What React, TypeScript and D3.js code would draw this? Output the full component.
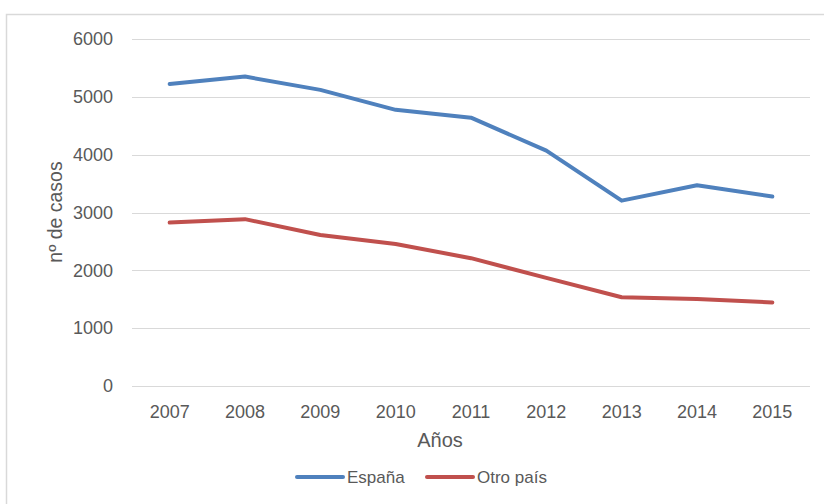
import * as d3 from "d3";
import { useEffect, useRef } from "react";

const years = ["2007", "2008", "2009", "2010", "2011", "2012", "2013", "2014", "2015"];
const espana = [5220, 5350, 5120, 4775, 4640, 4070, 3205, 3470, 3275];
const otroPais = [2825, 2885, 2610, 2455, 2210, 1870, 1535, 1505, 1445];
const yTicks = [0, 1000, 2000, 3000, 4000, 5000, 6000];

const series = [
  { name: "España", values: espana, color: "#4f81bd" },
  { name: "Otro país", values: otroPais, color: "#c0504d" },
];

const FONT = "'Liberation Sans', Arial, sans-serif";

const App = () => {
  const ref = useRef<SVGSVGElement>(null);

  useEffect(() => {
    const svg = d3.select(ref.current);
    const width = 824;
    const height = 504;

    const x = d3.scaleBand().domain(years).range([132, 810]);
    const y = d3.scaleLinear().domain([0, 6000]).range([386, 39]);
    const cx = (d: string) => (x(d) ?? 0) + x.bandwidth() / 2;

    // chart border
    svg
      .append("rect")
      .attr("x", 6.5)
      .attr("y", 14.5)
      .attr("width", width + 20)
      .attr("height", height + 20)
      .attr("fill", "white")
      .attr("stroke", "#d9d9d9")
      .attr("stroke-width", 1.5);

    // gridlines
    svg
      .append("g")
      .selectAll("line")
      .data(yTicks)
      .enter()
      .append("line")
      .attr("x1", 132)
      .attr("x2", 810)
      .attr("y1", (d) => Math.round(y(d)) + 0.5)
      .attr("y2", (d) => Math.round(y(d)) + 0.5)
      .attr("stroke", "#d9d9d9")
      .attr("stroke-width", 1);

    // y tick labels
    svg
      .append("g")
      .selectAll("text")
      .data(yTicks)
      .enter()
      .append("text")
      .attr("x", 113)
      .attr("y", (d) => y(d))
      .attr("dy", "0.35em")
      .attr("text-anchor", "end")
      .attr("font-family", FONT)
      .attr("font-size", 18)
      .attr("fill", "#595959")
      .text((d) => d);

    // x tick labels
    svg
      .append("g")
      .selectAll("text")
      .data(years)
      .enter()
      .append("text")
      .attr("x", (d) => cx(d))
      .attr("y", 412)
      .attr("dy", "0.35em")
      .attr("text-anchor", "middle")
      .attr("font-family", FONT)
      .attr("font-size", 18)
      .attr("fill", "#595959")
      .text((d) => d);

    // axis titles
    svg
      .append("text")
      .attr("x", 440)
      .attr("y", 440)
      .attr("dy", "0.35em")
      .attr("text-anchor", "middle")
      .attr("font-family", FONT)
      .attr("font-size", 20)
      .attr("fill", "#595959")
      .text("Años");

    svg
      .append("text")
      .attr("transform", "translate(55,212) rotate(-90)")
      .attr("dy", "0.35em")
      .attr("text-anchor", "middle")
      .attr("font-family", FONT)
      .attr("font-size", 19.5)
      .attr("fill", "#595959")
      .text("nº de casos");

    // lines
    const line = d3
      .line<number>()
      .x((_, i) => cx(years[i]))
      .y((d) => y(d));

    series.forEach((s) => {
      svg
        .append("path")
        .datum(s.values)
        .attr("d", line)
        .attr("fill", "none")
        .attr("stroke", s.color)
        .attr("stroke-width", 4)
        .attr("stroke-linejoin", "round")
        .attr("stroke-linecap", "round");
    });

    // legend
    const legendX = [297, 427];
    const lg = svg
      .append("g")
      .selectAll("g")
      .data(series)
      .enter()
      .append("g")
      .attr("transform", (_, i) => `translate(${legendX[i]},477)`);

    lg.append("line")
      .attr("x1", 0)
      .attr("x2", 46)
      .attr("stroke", (d) => d.color)
      .attr("stroke-width", 4)
      .attr("stroke-linecap", "round");

    lg.append("text")
      .attr("x", 50)
      .attr("dy", "0.35em")
      .attr("font-family", FONT)
      .attr("font-size", 17)
      .attr("fill", "#595959")
      .text((d) => d.name);

    return () => {
      svg.selectAll("*").remove();
    };
  }, []);

  return (
    <svg
      ref={ref}
      width={824}
      height={504}
      style={{ position: "absolute", left: 0, top: 0, background: "white" }}
    />
  );
};

export default App;
